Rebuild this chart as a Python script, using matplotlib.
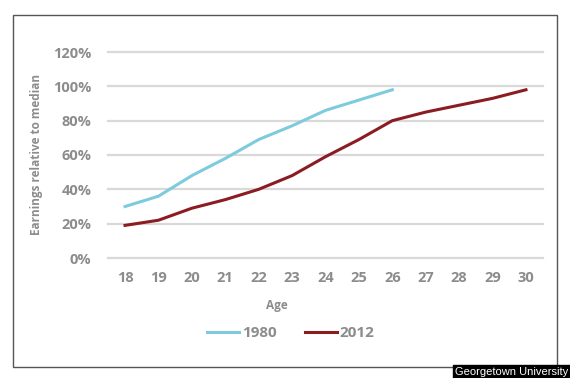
import matplotlib
matplotlib.use("Agg")
import matplotlib.pyplot as plt
from matplotlib.patches import Rectangle

ages_1980 = [18, 19, 20, 21, 22, 23, 24, 25, 26]
vals_1980 = [30, 36, 48, 58, 69, 77, 86, 92, 98]
ages_2012 = [18, 19, 20, 21, 22, 23, 24, 25, 26, 27, 28, 29, 30]
vals_2012 = [19, 22, 29, 34, 40, 48, 59, 69, 80, 85, 89, 93, 98]
y_ticks = [0, 20, 40, 60, 80, 100, 120]
x_ticks = list(range(18, 31))

W, H = 570, 378
fig = plt.figure(figsize=(W / 100, H / 100), dpi=100)
fig.patch.set_facecolor("white")

# outer frame
frame = Rectangle((13 / W, 1 - 367 / H), (557 - 13) / W, (367 - 15) / H,
                  transform=fig.transFigure, fill=False, edgecolor="#555555", lw=1.0)
fig.patches.append(frame)

ax = fig.add_axes([108 / W, 1 - 258 / H, (543 - 108) / W, (258 - 52) / H])
ax.set_xlim(17.49, 30.51)
ax.set_ylim(0, 120)

font = "Open Sans"
txt_col = "#8c8c8c"

for y in y_ticks:
    ax.axhline(y, color="#d9d9d9", lw=1.6, zorder=0, clip_on=False)

ax.plot(ages_1980, vals_1980, color="#7ecbdd", lw=2.2, label="1980", clip_on=False)
ax.plot(ages_2012, vals_2012, color="#8b1c22", lw=2.2, label="2012", clip_on=False)

for s in ax.spines.values():
    s.set_visible(False)
ax.tick_params(length=0)
ax.set_xticks(x_ticks)
ax.set_xticklabels([str(a) for a in x_ticks], fontfamily=font, fontweight="bold",
                   fontsize=10.5, color=txt_col)
ax.tick_params(axis="x", pad=9)
ax.set_yticks(y_ticks)
ax.set_yticklabels([f"{v}%" for v in y_ticks], fontfamily=font, fontweight="bold",
                   fontsize=10.5, color=txt_col)
ax.tick_params(axis="y", pad=12)

fig.text(277 / W, 1 - 305 / H, "Age", ha="center", va="center", fontfamily=font,
         fontweight="bold", fontsize=8.5, color=txt_col)
fig.text(37 / W, 1 - 155 / H, "Earnings relative to median", ha="center", va="center",
         rotation=90, fontfamily=font, fontweight="bold", fontsize=8.5, color=txt_col)

leg = ax.legend(loc="center", bbox_to_anchor=(291 / W, 1 - 333 / H),
                bbox_transform=fig.transFigure, ncol=2, frameon=False,
                prop={"family": font, "weight": "bold", "size": 11},
                handlelength=2.1, handletextpad=0.15, columnspacing=1.9)
for t in leg.get_texts():
    t.set_color(txt_col)

fig.text(1 - 2 / W, 1 - 372 / H, "Georgetown University", ha="right", va="center",
         fontfamily="Liberation Sans", fontsize=8, color="white",
         bbox=dict(boxstyle="square,pad=0.2", facecolor="black", edgecolor="black"))

fig.savefig("out.png", dpi=100, facecolor="white")
